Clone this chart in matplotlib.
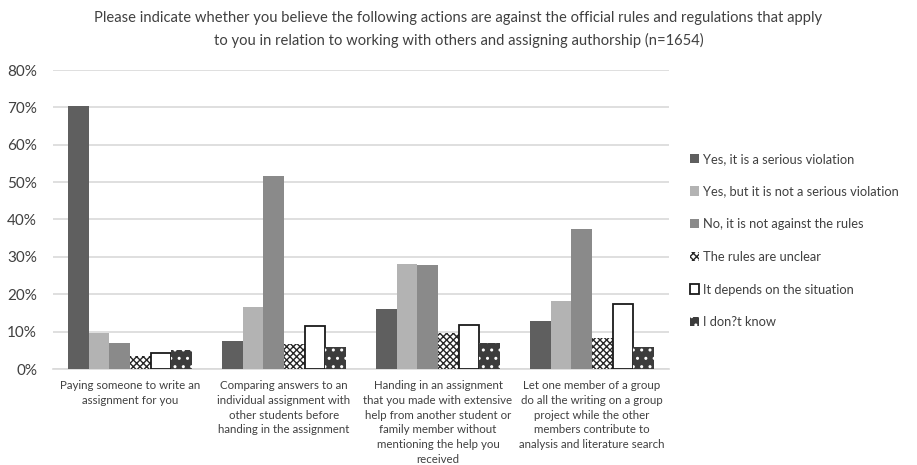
import matplotlib
matplotlib.use("Agg")
import matplotlib.pyplot as plt
import numpy as np

plt.rcParams['font.family'] = ['Lato', 'DejaVu Sans']
plt.rcParams['hatch.linewidth'] = 1.0

categories = [
    "Paying someone to write an\nassignment for you",
    "Comparing answers to an\nindividual assignment with\nother students before\nhanding in the assignment",
    "Handing in an assignment\nthat you made with extensive\nhelp from another student or\nfamily member without\nmentioning the help you\nreceived",
    "Let one member of a group\ndo all the writing on a group\nproject while the other\nmembers contribute to\nanalysis and literature search",
]
series_names = [
    "Yes, it is a serious violation",
    "Yes, but it is not a serious violation",
    "No, it is not against the rules",
    "The rules are unclear",
    "It depends on the situation",
    "I don?t know",
]
serious = [70.3, 7.4, 16.0, 12.9]
not_serious = [9.6, 16.7, 28.2, 18.2]
not_against = [6.9, 51.7, 27.9, 37.5]
unclear = [3.6, 6.7, 9.6, 8.3]
depends = [4.4, 11.6, 11.8, 17.3]
dont_know = [5.1, 5.9, 7.0, 5.9]
yticks = [0, 10, 20, 30, 40, 50, 60, 70, 80]

series = [serious, not_serious, not_against, unclear, depends, dont_know]
styles = [
    dict(color='#5f5f5f', edgecolor='#5f5f5f', linewidth=0),
    dict(color='#b3b3b3', edgecolor='#b3b3b3', linewidth=0),
    dict(color='#8a8a8a', edgecolor='#8a8a8a', linewidth=0),
    dict(facecolor='white', edgecolor='#262626', hatch='xxxxx', linewidth=0),
    dict(facecolor='white', edgecolor='#1a1a1a', linewidth=1.3),
    dict(facecolor='#3c3c3c', edgecolor='white', hatch='..', linewidth=0),
]

fig = plt.figure(figsize=(9.17, 4.65), dpi=100)
ax = fig.add_axes([53/917, 1-369/465, (669-53)/917, (369-70)/465])

x = np.arange(len(categories))
w = 0.134
handles = []
for j, (vals, st) in enumerate(zip(series, styles)):
    b = ax.bar(x + (j - 2.5) * w, vals, width=w, label=series_names[j], zorder=3, **st)
    handles.append(b)

ax.set_xlim(-0.5, 3.5)
ax.set_ylim(0, 80)
ax.set_yticks(yticks)
ax.set_yticklabels([f"{v}%" for v in yticks], fontsize=11, color='#404040')
ax.yaxis.grid(True, color='#d9d9d9', linewidth=1.2, zorder=0)
ax.set_axisbelow(True)
for s in ['top', 'right', 'left']:
    ax.spines[s].set_visible(False)
ax.spines['bottom'].set_color('#d9d9d9')
ax.spines['bottom'].set_linewidth(1.2)
ax.tick_params(axis='y', length=0, pad=11.5)
ax.tick_params(axis='x', length=0, pad=8)
ax.set_xticks(x)
ax.set_xticklabels(categories, fontsize=8.3, color='#404040', linespacing=1.42)

fig.text(0.5, 1-18/465, "Please indicate whether you believe the following actions are against the official rules and regulations that apply",
         ha='center', va='center', fontsize=10.6, color='#404040')
fig.text(0.5, 1-40/465, "to you in relation to working with others and assigning authorship (n=1654)",
         ha='center', va='center', fontsize=10.6, color='#404040')

leg = fig.legend(handles=handles, loc='center left', bbox_to_anchor=(678/917, 1-240.5/465),
                 frameon=False, fontsize=9.3, labelspacing=1.6, handlelength=0.75,
                 handleheight=0.75, handletextpad=0.3, labelcolor='#404040')

fig.savefig("out.png", dpi=100)
